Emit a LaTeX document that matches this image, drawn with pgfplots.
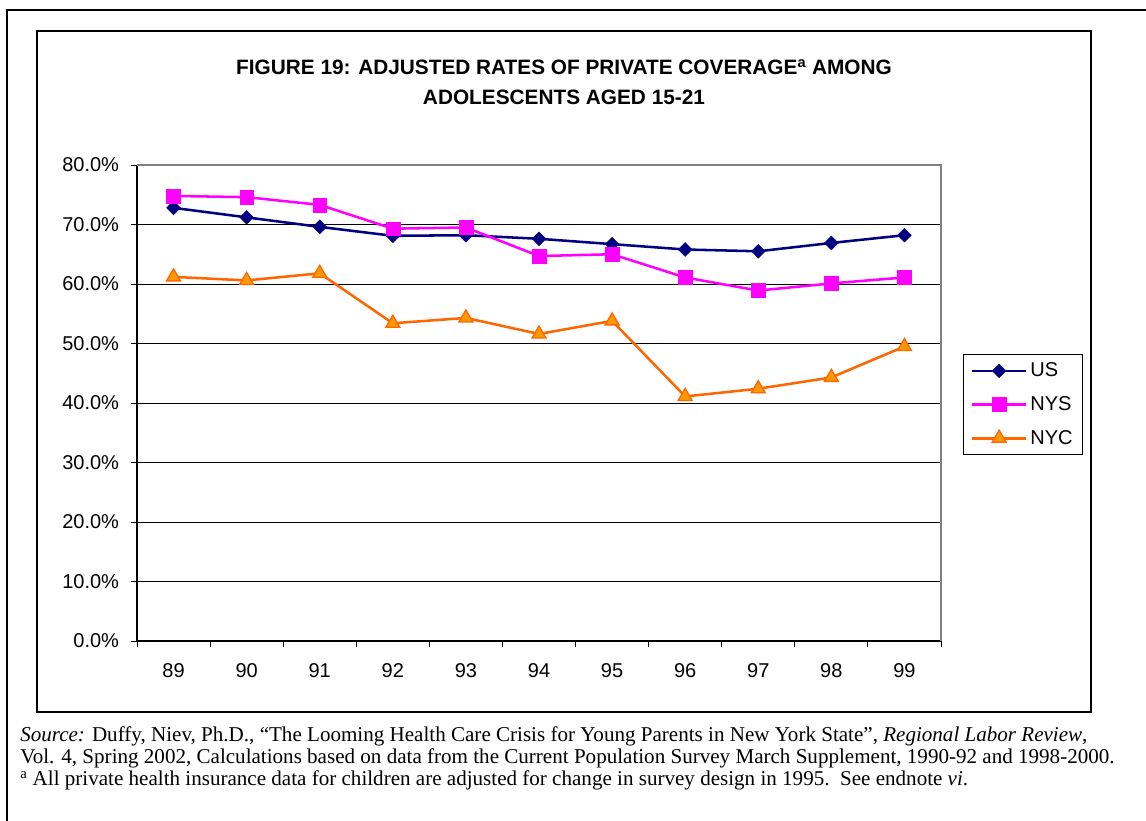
\documentclass[border=0pt]{standalone}
\usepackage{fontspec}
\setmainfont{Liberation Serif}
\newfontfamily\arial{Liberation Sans}
\usepackage{pgfplots}
\pgfplotsset{compat=1.18}
\definecolor{usblue}{RGB}{0,0,128}
\definecolor{nysmag}{RGB}{255,0,255}
\definecolor{nycline}{RGB}{255,102,0}
\definecolor{nycfill}{RGB}{255,153,0}
\definecolor{frgray}{RGB}{128,128,128}
\begin{document}
\begin{tikzpicture}
\begin{scope}[x=0.75pt,y=-0.75pt]
\useasboundingbox (0,0) rectangle (1146,821);
\draw[line width=1.5pt] (7,1000) -- (7,10) -- (1300,10);
\draw[line width=1pt] (37,31) rectangle (1091,712);
\node[anchor=base, inner sep=0pt, font=\arial\bfseries\fontsize{15.6}{18}\selectfont] at (564,74.5) {FIGURE 19: ADJUSTED RATES OF PRIVATE COVERAGE\textsuperscript{a} AMONG};
\node[anchor=base, inner sep=0pt, font=\arial\bfseries\fontsize{15.6}{18}\selectfont] at (564,104) {ADOLESCENTS AGED 15-21};
\node[anchor=base west, inner sep=0pt, font=\fontsize{15.8}{18}\selectfont] at (20,741) {\textit{Source:} Duffy, Niev, Ph.D., “The Looming Health Care Crisis for Young Parents in New York State”, \textit{Regional Labor Review},};
\node[anchor=base west, inner sep=0pt, font=\fontsize{15.8}{18}\selectfont] at (20,763) {Vol. 4, Spring 2002, Calculations based on data from the Current Population Survey March Supplement, 1990-92 and 1998-2000.};
\node[anchor=base west, inner sep=0pt, font=\fontsize{15.8}{18}\selectfont] at (20,785) {\textsuperscript{a} All private health insurance data for children are adjusted for change in survey design in 1995.\ \ See endnote \textit{vi}.};
\end{scope}
\begin{axis}[
  at={(102.75pt,-480.75pt)}, anchor=south west,
  width=603pt, height=357pt, scale only axis,
  xmin=-0.5, xmax=10.5, ymin=0, ymax=80,
  axis x line*=bottom, axis y line*=left,
  axis line style={black, line width=0.9pt},
  x tick label as interval,
  xtick={-0.5,0.5,1.5,2.5,3.5,4.5,5.5,6.5,7.5,8.5,9.5,10.5},
  xticklabels={89,90,91,92,93,94,95,96,97,98,99},
  ytick={0,10,20,30,40,50,60,70,80},
  yticklabels={0.0\%,10.0\%,20.0\%,30.0\%,40.0\%,50.0\%,60.0\%,70.0\%,80.0\%},
  extra y ticks={10,20,30,40,50,60,70},
  extra y tick labels={},
  extra y tick style={grid=major, major tick length=0pt},
  major grid style={black, line width=0.6pt},
  tick align=outside, major tick length=4.5pt,
  tick style={black, line width=0.75pt},
  tick label style={font=\arial\fontsize{15}{18}\selectfont},
  yticklabel style={anchor=east, inner sep=0pt, xshift=-8.8pt},
  xticklabel style={anchor=base, inner sep=0pt, yshift=-22.5pt},
  clip=false,
  legend style={at={(1.0274,0.603)}, anchor=north west, draw=black, line width=0.75pt,
    font=\arial\fontsize{15}{18}\selectfont, inner xsep=5.25pt, inner ysep=4.3pt,
    row sep=9.3pt, column sep=0pt, cells={anchor=west}},
  legend image code/.code={\draw[mark repeat=2,mark phase=2,#1] plot coordinates {(0pt,0pt) (20.5pt,0pt) (41pt,0pt)};},
  execute at end axis={\draw[frgray, line width=1.5pt] (rel axis cs:0,1) -- (rel axis cs:1,1) -- (rel axis cs:1,0);},
]
\addplot[usblue, line width=1.9pt, mark=diamond*, mark size=5.2pt, mark options={solid, xscale=1.333, fill=usblue, draw=usblue, line width=0.3pt}]
 coordinates {(0,72.8) (1,71.2) (2,69.6) (3,68.1) (4,68.2) (5,67.6) (6,66.7) (7,65.8) (8,65.5) (9,66.9) (10,68.2)};
\addplot[nysmag, line width=1.9pt, mark=square*, mark size=5.2pt, mark options={solid, fill=nysmag, draw=nysmag, line width=0.3pt}]
 coordinates {(0,74.8) (1,74.6) (2,73.3) (3,69.3) (4,69.5) (5,64.7) (6,65.0) (7,61.1) (8,58.9) (9,60.1) (10,61.1)};
\addplot[nycline, line width=1.9pt, mark=triangle*, mark size=6pt, mark options={solid, fill=nycfill, draw=nycline, line width=1pt}]
 coordinates {(0,61.2) (1,60.6) (2,61.8) (3,53.4) (4,54.3) (5,51.6) (6,53.8) (7,41.1) (8,42.4) (9,44.3) (10,49.5)};
\legend{US,NYS,NYC}
\end{axis}
\end{tikzpicture}
\end{document}
